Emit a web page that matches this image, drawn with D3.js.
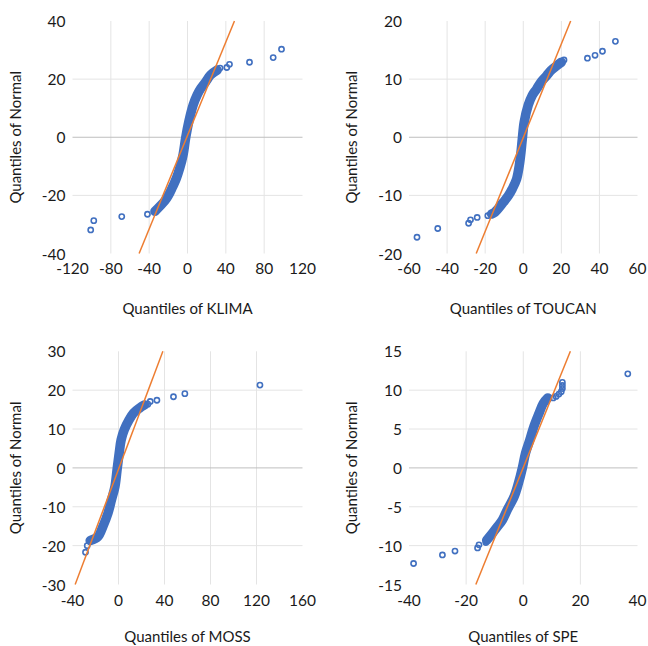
<!DOCTYPE html>
<html lang="en">
<head>
  <meta charset="UTF-8" />
  <title>QQ plots</title>
  <script src="https://d3js.org/d3.v7.min.js"></script>
  <style>
    body { margin: 0; background: #fff; }
    svg { display: block; font-family: 'Lato', 'Open Sans', sans-serif; }
    .tick-label { font-size: 15.5px; fill: #1a1a1a; }
    .axis-title { font-size: 15px; fill: #1a1a1a; }
  </style>
</head>
<body>
  <svg id="chart" width="648" height="646"></svg>

  <script>
    // ---- data ----
    const klimaTicksX = [-120, -80, -40, 0, 40, 80, 120];
    const klimaTicksY = [-40, -20, 0, 20, 40];
    const klimaBand = [[-34, -25.5], [-23.7, -21.9], [-20.2, -20.2], [-16, -17.4], [-11.5, -14], [-8, -10.5],
      [-4.6, -6], [-1.8, 0], [1.4, 5.4], [5.9, 11.1], [10, 14.5], [13.9, 16.8], [19.1, 19.1], [24, 21.4], [30.9, 23.1]];
    const klimaPoints = [[-101, -31.9], [-97.8, -28.7], [-68.6, -27.3], [-41.8, -26.5], [-34.1, -25.6],
      [34, 23.8], [41, 24], [43.8, 25.1], [64.7, 25.8], [89.4, 27.4], [98.1, 30.3]];
    const klimaLine = [[-50.5, -40], [49, 40]];

    const toucanTicksX = [-60, -40, -20, 0, 20, 40, 60];
    const toucanTicksY = [-20, -10, 0, 10, 20];
    const toucanBand = [[-16.6, -13.2], [-14.9, -12.9], [-10.5, -11.2], [-7.9, -10.1], [-5.8, -8.9], [-3.5, -7.2],
      [-2.1, -4.9], [-1.2, -2.6], [-0.5, -0.3], [0.5, 2.6], [2.6, 5.5], [4.7, 7.2], [7, 8.3], [9.3, 9.5],
      [12.3, 10.6], [14.6, 11.5], [17.9, 12.4], [20, 12.9]];
    const toucanPoints = [[-55.8, -17.2], [-44.9, -15.7], [-28.7, -14.8], [-27.7, -14.2], [-24.2, -13.8],
      [-18.6, -13.5], [21.4, 13.3], [33.7, 13.6], [37.7, 14.1], [41.6, 14.8], [48.4, 16.5]];
    const toucanLine = [[-24.7, -20], [24.9, 20]];

    const mossTicksX = [-40, 0, 40, 80, 120, 160];
    const mossTicksY = [-30, -20, -10, 0, 10, 20, 30];
    const mossBand = [[-24.6, -18.7], [-17.9, -17.7], [-13.6, -15.1], [-9.2, -11.7], [-6.1, -8.2], [-3.1, -4.8],
      [-1.1, -0.1], [0.6, 3.8], [2.3, 7.2], [5, 9.8], [9.3, 12.4], [13, 14.1], [18.3, 15.4], [22.6, 16.2]];
    const mossPoints = [[-28.7, -21.7], [-27.2, -20], [-24.3, -18.9], [25.5, 16.4], [27.6, 17.1],
      [33.4, 17.4], [47.8, 18.3], [57.7, 19.1], [123, 21.3]];
    const mossLine = [[-37.7, -30], [38.6, 30]];

    const speTicksX = [-40, -20, 0, 20, 40];
    const speTicksY = [-15, -10, -5, 0, 5, 10, 15];
    const speBand = [[-12.8, -9.3], [-10.8, -8.4], [-9.1, -7.6], [-7.3, -6.7], [-5.6, -5.4], [-3.2, -3.7],
      [-1.7, -2], [-0.3, 0], [0.8, 1.9], [2.3, 3.6], [3.7, 5.3], [5.5, 7], [7, 8.3], [8.6, 9]];
    const spePoints = [[-38.4, -12.3], [-28.3, -11.2], [-23.9, -10.7], [-16, -10.3], [-15.5, -9.9], [-13.1, -9.6],
      [10.5, 9], [11.5, 9.2], [12.5, 9.5], [13.3, 9.8], [13.7, 10.2], [13.7, 10.6], [13.7, 11], [36.6, 12.1]];
    const speLine = [[-16.6, -15], [16.5, 15]];

    const names = ["KLIMA", "TOUCAN", "MOSS", "SPE"];

    // ---- layout ----
    const cols = [[72.5, 302.5], [409, 637.5]];
    const rows = [[21, 253.5], [351.3, 584.5]];
    const tickGap = [14.5, 15.5];
    const titleBase = [314, 642];
    const yTitleX = [15, 351];

    const panels = [
      { name: names[0], tx: klimaTicksX, ty: klimaTicksY, band: klimaBand, pts: klimaPoints, line: klimaLine, c: 0, r: 0 },
      { name: names[1], tx: toucanTicksX, ty: toucanTicksY, band: toucanBand, pts: toucanPoints, line: toucanLine, c: 1, r: 0 },
      { name: names[2], tx: mossTicksX, ty: mossTicksY, band: mossBand, pts: mossPoints, line: mossLine, c: 0, r: 1 },
      { name: names[3], tx: speTicksX, ty: speTicksY, band: speBand, pts: spePoints, line: speLine, c: 1, r: 1 }
    ];

    const svg = d3.select("#chart");
    const blue = "#4170c0", orange = "#ed7d31";

    panels.forEach(p => {
      const x = d3.scaleLinear().domain(d3.extent(p.tx)).range(cols[p.c]);
      const y = d3.scaleLinear().domain(d3.extent(p.ty)).range([rows[p.r][1], rows[p.r][0]]);
      const g = svg.append("g");
      const [x0, x1] = x.range(), [y1, y0] = y.range();

      // interior gridlines
      g.selectAll(".vg").data(p.tx.slice(1, -1)).join("line")
        .attr("x1", d => x(d)).attr("x2", d => x(d))
        .attr("y1", y0).attr("y2", y1)
        .attr("stroke", "#e4e4e4").attr("stroke-width", 1);
      g.selectAll(".hg").data(p.ty.slice(1, -1)).join("line")
        .attr("x1", x0).attr("x2", x1)
        .attr("y1", d => y(d)).attr("y2", d => y(d))
        .attr("stroke", d => d === 0 ? "#bfbfbf" : "#e4e4e4").attr("stroke-width", 1);

      // tick labels
      g.selectAll(".yl").data(p.ty).join("text")
        .attr("class", "tick-label")
        .attr("x", x0 - 7).attr("y", d => y(d))
        .attr("text-anchor", "end").attr("dominant-baseline", "central")
        .text(d => d);
      g.selectAll(".xl").data(p.tx).join("text")
        .attr("class", "tick-label")
        .attr("x", d => x(d)).attr("y", y1 + tickGap[p.r])
        .attr("text-anchor", "middle").attr("dominant-baseline", "central")
        .text(d => d);

      // axis titles
      g.append("text").attr("class", "axis-title")
        .attr("x", (x0 + x1) / 2).attr("y", titleBase[p.r])
        .attr("text-anchor", "middle")
        .text("Quantiles of " + p.name);
      g.append("text").attr("class", "axis-title")
        .attr("transform", `translate(${yTitleX[p.c]},${(y0 + y1) / 2}) rotate(-90)`)
        .attr("text-anchor", "middle").attr("dominant-baseline", "central")
        .text("Quantiles of Normal");

      // dense run of overlapping markers
      const line = d3.line().x(d => x(d[0])).y(d => y(d[1])).curve(d3.curveCatmullRom.alpha(0.5));
      g.append("path").attr("d", line(p.band))
        .attr("fill", "none").attr("stroke", blue)
        .attr("stroke-width", 9.5).attr("stroke-linecap", "round").attr("stroke-linejoin", "round");

      // sparse markers
      g.selectAll(".pt").data(p.pts).join("circle")
        .attr("cx", d => x(d[0])).attr("cy", d => y(d[1])).attr("r", 2.6)
        .attr("fill", "none").attr("stroke", blue).attr("stroke-width", 1.6);

      // reference line
      g.append("path").attr("d", d3.line().x(d => x(d[0])).y(d => y(d[1]))(p.line))
        .attr("fill", "none").attr("stroke", orange).attr("stroke-width", 1.5);
    });
  </script>
</body>
</html>
